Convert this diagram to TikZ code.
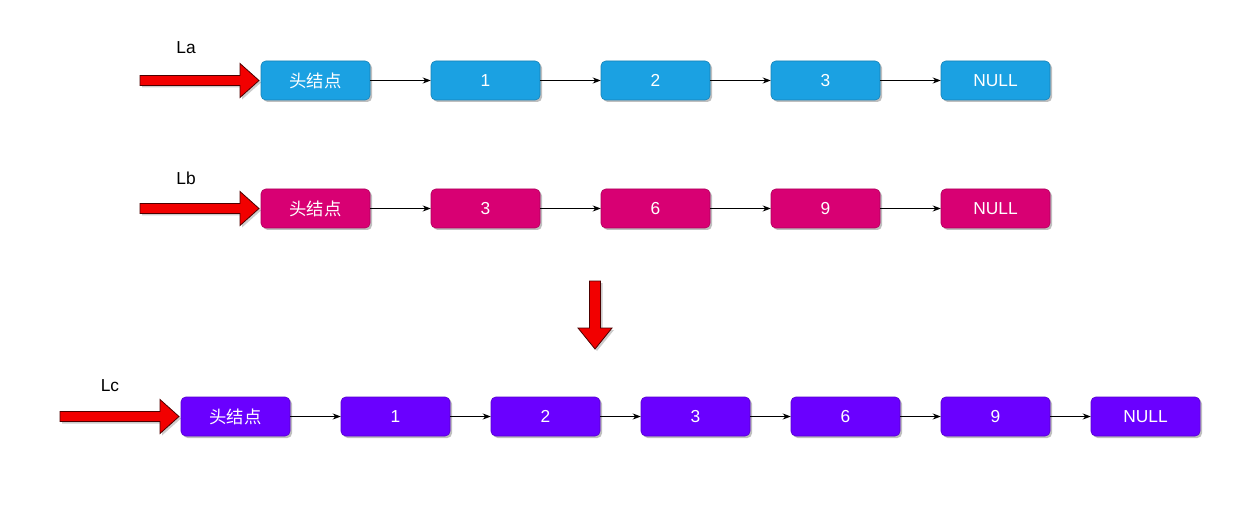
\documentclass[tikz,border=0pt]{standalone}
\usepackage{fontspec}
\setmainfont{Liberation Sans}
\newfontfamily\cjk{Noto Sans CJK SC}
\usetikzlibrary{shadows,arrows.meta}
\definecolor{nblue}{HTML}{1BA1E2}
\definecolor{nmag}{HTML}{D80073}
\definecolor{npur}{HTML}{6A00FF}
\definecolor{redfill}{HTML}{F20000}
\tikzset{
  lnode/.style={draw=#1!80!black, line width=0.4pt, fill=#1, rounded corners=3.5pt, minimum width=81.75pt, minimum height=29.25pt, text=white, font=\fontsize{13}{15}\selectfont, inner sep=0pt, drop shadow={shadow xshift=1.5pt, shadow yshift=-1.5pt, opacity=0.25, fill=black}},
  link/.style={-{Stealth[length=6pt,width=4.5pt]}, line width=0.6pt, black},
  lbl/.style={font=\fontsize{13}{15}\selectfont, text=black},
  bigarrow/.style={fill=redfill, draw=black!70!red, line width=0.6pt, line join=miter, drop shadow={shadow xshift=1.5pt, shadow yshift=-1.5pt, opacity=0.2, fill=black}}
}
\begin{document}
\begin{tikzpicture}[x=0.75pt,y=-0.75pt]
\useasboundingbox (0,0) rectangle (1252,520);
% Row La
\foreach \t/\n [count=\i from 0] in {{\cjk 头结点}/a0,1/a1,2/a2,3/a3,NULL/a4}{
  \node[lnode=nblue] (\n) at (315.5+170*\i,80.5) {\t};
}
\foreach \p/\q in {a0/a1,a1/a2,a2/a3,a3/a4}{ \draw[link] (\p) -- (\q); }
\node[lbl] (La) at (186,48) {La};
\draw[bigarrow] (140,75.5) -- (240,75.5) -- (240,63.5) -- (259,80.5) -- (240,97.5) -- (240,85.5) -- (140,85.5) -- cycle;
% Row Lb
\foreach \t/\n [count=\i from 0] in {{\cjk 头结点}/b0,3/b1,6/b2,9/b3,NULL/b4}{
  \node[lnode=nmag] (\n) at (315.5+170*\i,208.5) {\t};
}
\foreach \p/\q in {b0/b1,b1/b2,b2/b3,b3/b4}{ \draw[link] (\p) -- (\q); }
\node[lbl] (Lb) at (186,178) {Lb};
\draw[bigarrow] (140,203.5) -- (240,203.5) -- (240,191.5) -- (259,208.5) -- (240,225.5) -- (240,213.5) -- (140,213.5) -- cycle;
% Down arrow
\draw[bigarrow] (589.5,281) -- (600.5,281) -- (600.5,328) -- (612,328) -- (595,349) -- (578,328) -- (589.5,328) -- cycle;
% Row Lc
\foreach \t/\n [count=\i from 0] in {{\cjk 头结点}/c0,1/c1,2/c2,3/c3,6/c4,9/c5,NULL/c6}{
  \ifnum\i=0
    \node[lnode=npur] (\n) at (235.5,416.5) {\t};
  \else
    \node[lnode=npur] (\n) at (245.5+150*\i,416.5) {\t};
  \fi
}
\foreach \p/\q in {c0/c1,c1/c2,c2/c3,c3/c4,c4/c5,c5/c6}{ \draw[link] (\p) -- (\q); }
\node[lbl] (Lc) at (110,386) {Lc};
\draw[bigarrow] (60,411.5) -- (160,411.5) -- (160,399.5) -- (179,416.5) -- (160,433.5) -- (160,421.5) -- (60,421.5) -- cycle;
\end{tikzpicture}
\end{document}
